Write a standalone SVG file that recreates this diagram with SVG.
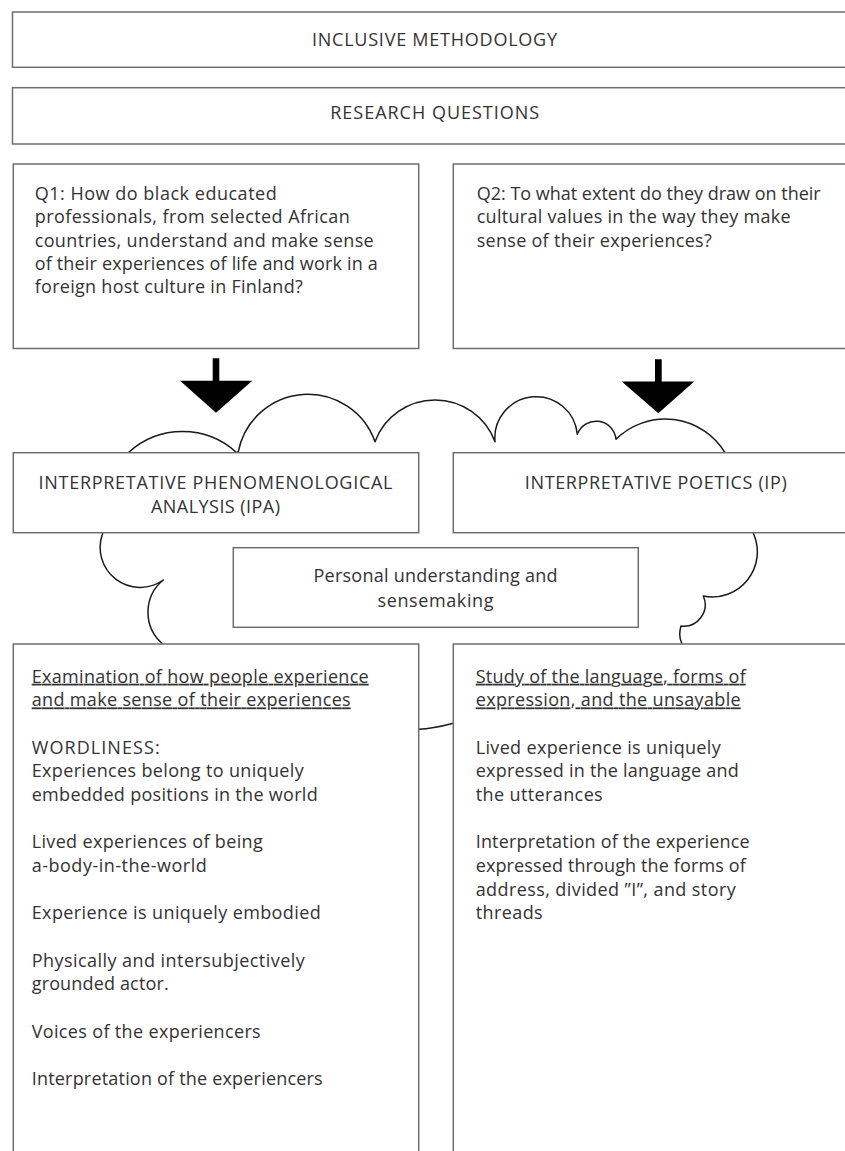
<svg xmlns="http://www.w3.org/2000/svg" width="845" height="1151" viewBox="0 0 845 1151">
<style>
.box{fill:#fff;stroke:#6e6e6e;stroke-width:1.5}
.t{font-family:"Open Sans","Liberation Sans",sans-serif;font-size:18px;font-weight:500;fill:#333}
.c{text-anchor:middle}
.u{text-decoration:underline;text-decoration-skip-ink:none}
.cloud{fill:#fff;stroke:#1a1a1a;stroke-width:1.5;stroke-linejoin:round}
.arrow{fill:#000}
</style>
<rect width="845" height="1151" fill="#fff"/>
<g id="cloud">
<path class="cloud" d="M128.3 452.7 A80 80 0 0 1 236.7 452.7 L238.3 451.7 A71 71 0 0 1 375 441.7 A64 64 0 0 1 495 441.7 A41 41 0 0 1 577.3 434.3 A20 20 0 0 1 616 439.3 A70 70 0 0 1 725 452.7 L753.3 533.3 A45 45 0 0 1 703.3 596 A21.5 21.5 0 0 1 681 626 Q678 636 682 644 L682 700 L453.3 723.3 Q432 729 418.7 729.3 L180 700 L162.7 644 A41.6 41.6 0 0 1 163.3 580 A40 40 0 0 1 102.7 533.3 Z"/>
</g>
<g id="connectors">
<path class="arrow" d="M212.7 358.3 H219.3 V380.7 H252.3 L216 412.7 L180 380.7 H212.7 Z"/>
<path class="arrow" d="M655 359.3 H661.7 V381.5 H694.3 L658.3 413.3 L621.7 381.5 H655 Z"/>
</g>
<g id="inclusive-methodology">
<rect class="box" x="12.5" y="12" width="846" height="55.3"/>
<text class="t c" x="434.5" y="46" textLength="245" lengthAdjust="spacing">INCLUSIVE METHODOLOGY</text>
</g>
<g id="research-questions">
<rect class="box" x="12.5" y="87.7" width="846" height="56.3"/>
<text class="t c" x="434.7" y="119.3" textLength="209" lengthAdjust="spacing">RESEARCH QUESTIONS</text>
</g>
<g id="q1">
<rect class="box" x="13.3" y="164" width="405.4" height="184.5"/>
<text class="t" x="34.7" y="200" textLength="242" lengthAdjust="spacing">Q1: How do black educated</text>
<text class="t" x="34.7" y="223.3" textLength="315" lengthAdjust="spacing">professionals, from selected African</text>
<text class="t" x="34.7" y="246.7" textLength="339" lengthAdjust="spacing">countries, understand and make sense</text>
<text class="t" x="34.7" y="270" textLength="343" lengthAdjust="spacing">of their experiences of life and work in a</text>
<text class="t" x="34.7" y="293.3" textLength="268" lengthAdjust="spacing">foreign host culture in Finland?</text>
</g>
<g id="q2">
<rect class="box" x="453.3" y="164" width="405" height="184.5"/>
<text class="t" x="476.7" y="200" textLength="344" lengthAdjust="spacing">Q2: To what extent do they draw on their</text>
<text class="t" x="476.7" y="223.3" textLength="314" lengthAdjust="spacing">cultural values in the way they make</text>
<text class="t" x="476.7" y="246.7" textLength="235" lengthAdjust="spacing">sense of their experiences?</text>
</g>
<g id="ipa">
<rect class="box" x="13.3" y="452.7" width="405.4" height="80"/>
<text class="t c" x="215.5" y="489" textLength="354" lengthAdjust="spacing">INTERPRETATIVE PHENOMENOLOGICAL</text>
<text class="t c" x="215.5" y="512.7" textLength="129" lengthAdjust="spacing">ANALYSIS (IPA)</text>
</g>
<g id="ip">
<rect class="box" x="453.3" y="452.7" width="405" height="80"/>
<text class="t c" x="655.8" y="489" textLength="262" lengthAdjust="spacing">INTERPRETATIVE POETICS (IP)</text>
</g>
<g id="personal">
<rect class="box" x="233.3" y="547.7" width="405" height="79.6"/>
<text class="t c" x="435.5" y="582.3" textLength="244" lengthAdjust="spacing">Personal understanding and</text>
<text class="t c" x="435.5" y="606.7" textLength="116" lengthAdjust="spacing">sensemaking</text>
</g>
<g id="examination">
<rect class="box" x="13.3" y="644" width="405.4" height="520"/>
<text class="t u" x="31.7" y="682.7" textLength="337" lengthAdjust="spacing">Examination of how people experience</text>
<text class="t u" x="31.7" y="706.4" textLength="319" lengthAdjust="spacing">and make sense of their experiences</text>
<text class="t" x="31.7" y="753.7" textLength="128" lengthAdjust="spacing">WORDLINESS:</text>
<text class="t" x="31.7" y="777.3" textLength="272" lengthAdjust="spacing">Experiences belong to uniquely</text>
<text class="t" x="31.7" y="801" textLength="286" lengthAdjust="spacing">embedded positions in the world</text>
<text class="t" x="31.7" y="848.3" textLength="231" lengthAdjust="spacing">Lived experiences of being</text>
<text class="t" x="31.7" y="872" textLength="175" lengthAdjust="spacing">a-body-in-the-world</text>
<text class="t" x="31.7" y="919.3" textLength="289" lengthAdjust="spacing">Experience is uniquely embodied</text>
<text class="t" x="31.7" y="966.6" textLength="273" lengthAdjust="spacing">Physically and intersubjectively</text>
<text class="t" x="31.7" y="990.3" textLength="137" lengthAdjust="spacing">grounded actor.</text>
<text class="t" x="31.7" y="1037.6" textLength="229" lengthAdjust="spacing">Voices of the experiencers</text>
<text class="t" x="31.7" y="1084.9" textLength="291" lengthAdjust="spacing">Interpretation of the experiencers</text>
</g>
<g id="study">
<rect class="box" x="453.3" y="644" width="405" height="520"/>
<text class="t u" x="475.7" y="682.7" textLength="270" lengthAdjust="spacing">Study of the language, forms of</text>
<text class="t u" x="475.7" y="706.4" textLength="265" lengthAdjust="spacing">expression, and the unsayable</text>
<text class="t" x="475.7" y="753.7" textLength="245" lengthAdjust="spacing">Lived experience is uniquely</text>
<text class="t" x="475.7" y="777.3" textLength="263" lengthAdjust="spacing">expressed in the language and</text>
<text class="t" x="475.7" y="801" textLength="127" lengthAdjust="spacing">the utterances</text>
<text class="t" x="475.7" y="848.3" textLength="274" lengthAdjust="spacing">Interpretation of the experience</text>
<text class="t" x="475.7" y="872" textLength="270" lengthAdjust="spacing">expressed through the forms of</text>
<text class="t" x="475.7" y="895.6" textLength="260" lengthAdjust="spacing">address, divided ”I”, and story</text>
<text class="t" x="475.7" y="919.3" textLength="67" lengthAdjust="spacing">threads</text>
</g>
</svg>
